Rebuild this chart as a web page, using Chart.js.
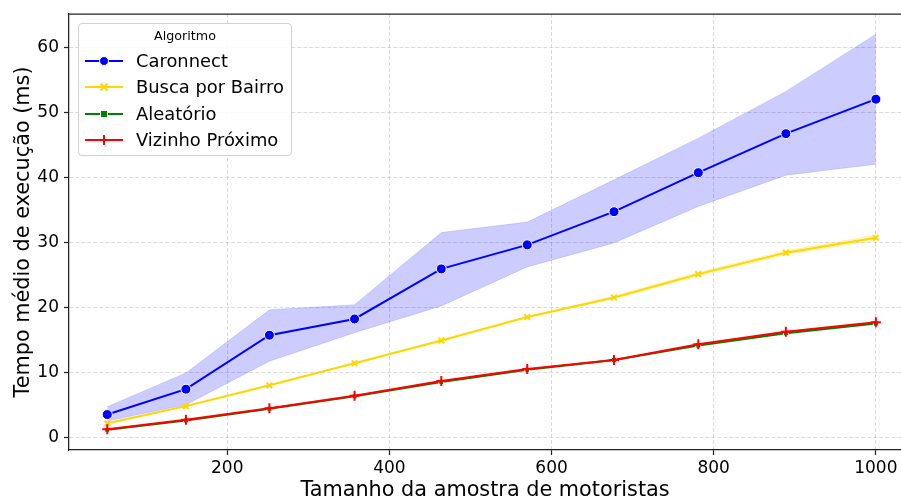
<!DOCTYPE html>
<html>
<head>
<meta charset="utf-8">
<script src="https://cdn.jsdelivr.net/npm/chart.js@4/dist/chart.umd.min.js"></script>
<style>
  body { margin: 0; background: #fff; font-family: 'DejaVu Sans', sans-serif; }
  #wrap { position: relative; width: 901px; height: 500px; }
  #legend {
    position: absolute; left: 78px; top: 23px; width: 212px; height: 131px;
    border: 1px solid #d0d0d0; border-radius: 4px; background: rgba(255,255,255,0.85);
  }
  #legend .title { position: absolute; left: 0; width: 100%; top: 4px; text-align: center; font-size: 12.7px; color: #000; }
  #legend .row { position: absolute; left: 0; height: 26px; line-height: 26px; font-size: 17.9px; color: #000; white-space: nowrap; }
  #legend .row svg { position: absolute; left: 6px; top: 6px; }
  #legend .row span { position: absolute; left: 57px; }
</style>
</head>
<body>
<div id="wrap">
  <canvas id="chart" width="901" height="500"></canvas>
  <div id="legend"></div>
</div>
<script>
// sample sizes (x) and mean execution time in ms per algorithm
const sizes = [52, 149, 252, 357, 464, 570, 677, 781, 889, 1000];
const caronnect = [3.5, 7.4, 15.7, 18.2, 25.9, 29.6, 34.7, 40.7, 46.7, 52.0];
const caronnectHi = [4.7, 9.9, 19.6, 20.4, 31.5, 33.1, 39.6, 46.0, 53.2, 62.0];
const caronnectLo = [2.5, 5.0, 11.7, 16.1, 20.2, 26.2, 29.9, 35.5, 40.3, 42.0];
const busca = [2.15, 4.8, 8.0, 11.4, 14.9, 18.5, 21.5, 25.1, 28.4, 30.7];
const buscaHi = [2.25, 4.9, 8.1, 11.5, 15.0, 18.6, 21.7, 25.4, 28.7, 31.1];
const buscaLo = [2.05, 4.7, 7.9, 11.3, 14.8, 18.4, 21.3, 24.8, 28.1, 30.3];
const aleatorio = [1.15, 2.6, 4.4, 6.3, 8.5, 10.4, 11.9, 14.1, 16.0, 17.5];
const vizinho = [1.23, 2.7, 4.46, 6.4, 8.66, 10.5, 11.9, 14.3, 16.25, 17.7];

const xTicks = [200, 400, 600, 800, 1000];
const yTicks = [0, 10, 20, 30, 40, 50, 60];

const pts = (ys) => sizes.map((x, i) => ({ x: x, y: ys[i] }));

const FONT = "'DejaVu Sans', sans-serif";

// top spine (matplotlib frame)
const framePlugin = {
  id: 'frame',
  afterDraw(chart) {
    const { ctx, chartArea } = chart;
    ctx.save();
    ctx.strokeStyle = '#222';
    ctx.lineWidth = 1.25;
    ctx.beginPath();
    ctx.moveTo(chartArea.left, chartArea.top);
    ctx.lineTo(chartArea.right, chartArea.top);
    ctx.stroke();
    ctx.restore();
  }
};

const band = (data, fill, color, edge) => ({
  data: data,
  fill: fill,
  backgroundColor: color,
  borderColor: edge,
  borderWidth: 1,
  pointRadius: 0,
  order: 10
});

new Chart(document.getElementById('chart'), {
  type: 'line',
  data: {
    datasets: [
      band(pts(caronnectHi), false, 'rgba(0,0,255,0.2)', 'rgba(0,0,255,0.12)'),
      band(pts(caronnectLo), '-1', 'rgba(0,0,255,0.2)', 'rgba(0,0,255,0.12)'),
      band(pts(buscaHi), false, 'rgba(255,215,0,0.25)', 'rgba(255,215,0,0.2)'),
      band(pts(buscaLo), '-1', 'rgba(255,215,0,0.25)', 'rgba(255,215,0,0.2)'),
      {
        label: 'Caronnect',
        data: pts(caronnect),
        borderColor: '#0000ff',
        borderWidth: 2,
        pointStyle: 'circle',
        pointRadius: 5,
        pointBackgroundColor: '#0000ff',
        pointBorderColor: '#ffffff',
        pointBorderWidth: 1,
        order: 4
      },
      {
        label: 'Busca por Bairro',
        data: pts(busca),
        borderColor: '#ffd700',
        borderWidth: 2,
        pointStyle: 'crossRot',
        pointRadius: 4,
        pointBorderColor: '#ffd700',
        pointBorderWidth: 2,
        order: 3
      },
      {
        label: 'Aleatório',
        data: pts(aleatorio),
        borderColor: '#008000',
        borderWidth: 2,
        pointStyle: 'rect',
        pointRadius: 3.5,
        pointBackgroundColor: '#008000',
        pointBorderColor: '#ffffff',
        pointBorderWidth: 1,
        order: 2
      },
      {
        label: 'Vizinho Próximo',
        data: pts(vizinho),
        borderColor: '#ff0000',
        borderWidth: 2,
        pointStyle: 'cross',
        pointRadius: 5,
        pointBorderColor: '#ff0000',
        pointBorderWidth: 2,
        order: 1
      }
    ]
  },
  options: {
    responsive: false,
    animation: false,
    layout: { autoPadding: false, padding: { top: 14, left: 0, right: 0, bottom: 0 } },
    elements: { line: { tension: 0 } },
    plugins: {
      legend: { display: false },
      tooltip: { enabled: false }
    },
    scales: {
      x: {
        type: 'linear',
        min: 4.8,
        max: 1031,
        afterFit: (s) => { s.height = 50; s.paddingLeft = 0; s.paddingRight = 0; },
        afterBuildTicks: (s) => { s.ticks = xTicks.map(v => ({ value: v })); },
        grid: {
          color: 'rgba(176,176,176,0.6)',
          lineWidth: 0.8,
          tickLength: 5,
          tickColor: '#222',
          tickWidth: 1.25,
          tickBorderDash: []
        },
        border: { display: true, color: '#222', width: 1.25, dash: [4, 2] },
        ticks: {
          color: '#000',
          font: { family: FONT, size: 17 },
          padding: 3,
          maxRotation: 0,
          callback: (v) => String(v)
        },
        title: {
          display: true,
          text: 'Tamanho da amostra de motoristas',
          color: '#000',
          font: { family: FONT, size: 20.8, lineHeight: 1 },
          padding: { top: 0, bottom: -1 }
        }
      },
      y: {
        type: 'linear',
        min: -1.95,
        max: 65.1,
        afterFit: (s) => { s.width = 69; s.paddingTop = 0; s.paddingBottom = 0; },
        afterBuildTicks: (s) => { s.ticks = yTicks.map(v => ({ value: v })); },
        grid: {
          color: 'rgba(176,176,176,0.6)',
          lineWidth: 0.8,
          tickLength: 5,
          tickColor: '#222',
          tickWidth: 1.25,
          tickBorderDash: []
        },
        border: { display: true, color: '#222', width: 1.25, dash: [4, 2] },
        ticks: {
          color: '#000',
          font: { family: FONT, size: 17 },
          padding: 5,
          callback: (v) => String(v)
        },
        title: {
          display: true,
          text: 'Tempo médio de execução (ms)',
          color: '#000',
          font: { family: FONT, size: 20.8, lineHeight: 1 },
          padding: { top: 13, bottom: 0 }
        }
      }
    }
  },
  plugins: [framePlugin]
});

// legend drawn as html overlay, line + marker handles like matplotlib
const legendItems = [
  { label: 'Caronnect', color: '#0000ff', marker: '<circle cx="19" cy="7" r="4.5" fill="#0000ff" stroke="#fff" stroke-width="1"/>' },
  { label: 'Busca por Bairro', color: '#ffd700', marker: '<path d="M15.5 3.5 L22.5 10.5 M22.5 3.5 L15.5 10.5" stroke="#ffd700" stroke-width="2"/>' },
  { label: 'Aleatório', color: '#008000', marker: '<rect x="15.5" y="3.5" width="7" height="7" fill="#008000" stroke="#fff" stroke-width="1"/>' },
  { label: 'Vizinho Próximo', color: '#ff0000', marker: '<path d="M19 2 L19 12 M14 7 L24 7" stroke="#ff0000" stroke-width="2"/>' }
];
const legendTops = [24, 50, 76.7, 102.7];
let html = '<div class="title">Algoritmo</div>';
legendItems.forEach((it, i) => {
  html += '<div class="row" style="top:' + legendTops[i] + 'px">' +
    '<svg width="38" height="14"><line x1="0" y1="7" x2="38" y2="7" stroke="' + it.color + '" stroke-width="2"/>' + it.marker + '</svg>' +
    '<span>' + it.label + '</span></div>';
});
document.getElementById('legend').innerHTML = html;
</script>
</body>
</html>
